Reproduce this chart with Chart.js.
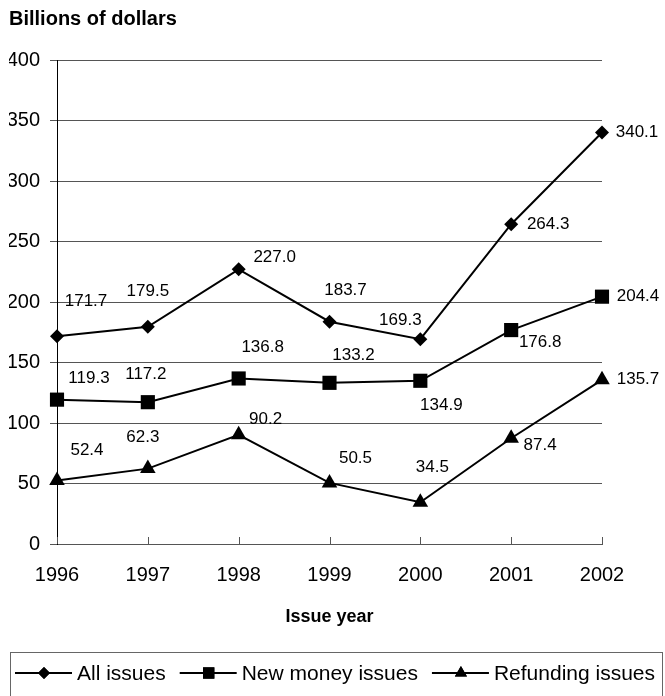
<!DOCTYPE html>
<html>
<head>
<meta charset="utf-8">
<title>Issues by year</title>
<script src="https://cdn.jsdelivr.net/npm/chart.js@4.4.1/dist/chart.umd.min.js"></script>
<style>
  html, body { margin: 0; padding: 0; background: #fff; overflow: hidden; }
  #wrap { position: relative; width: 665px; height: 696px; }
</style>
</head>
<body>
<div id="wrap"><canvas id="issueChart"></canvas></div>
<script>
const years = ['1996', '1997', '1998', '1999', '2000', '2001', '2002'];
const allIssues = [171.7, 179.5, 227.0, 183.7, 169.3, 264.3, 340.1];
const newMoney = [119.3, 117.2, 136.8, 133.2, 134.9, 176.8, 204.4];
const refunding = [52.4, 62.3, 90.2, 50.5, 34.5, 87.4, 135.7];
const yTicks = [0, 50, 100, 150, 200, 250, 300, 350, 400];

const FONT = '"Liberation Sans", Arial, Helvetica, sans-serif';

// where each value label sits relative to its marker (dx, dy in px)
const labelShift = {
    all: [[29, -35], [0, -35], [36, -12], [16, -31], [-20, -19], [37, 0], [35, 0]],
    money: [[32, -21], [-2, -28], [24, -31], [24, -28], [21, 25], [29, 12], [36, 0]],
    refund: [[30, -30], [-5, -31], [27, -16], [26, -25], [12, -35], [29, 7], [36, 0]]
};

const valueLabels = {
    id: 'valueLabels',
    afterDatasetsDraw(chart) {
        const ctx = chart.ctx;
        ctx.save();
        ctx.font = '17px ' + FONT;
        ctx.fillStyle = '#000';
        ctx.textAlign = 'center';
        ctx.textBaseline = 'middle';
        chart.data.datasets.forEach((ds, i) => {
            const meta = chart.getDatasetMeta(i);
            meta.data.forEach((pt, j) => {
                const s = ds.shift[j];
                ctx.fillText(ds.data[j].toFixed(1), pt.x + s[0], pt.y + s[1]);
            });
        });
        ctx.restore();
    }
};

// small tick marks on the year axis, pointing up into the plot
const innerTicks = {
    id: 'innerTicks',
    afterDraw(chart) {
        const ctx = chart.ctx;
        const x = chart.scales.x;
        const bottom = chart.chartArea.bottom;
        ctx.save();
        ctx.strokeStyle = '#555';
        ctx.lineWidth = 1;
        ctx.beginPath();
        years.forEach((y, i) => {
            const px = Math.round(x.getPixelForValue(i)) + 0.5;
            ctx.moveTo(px, bottom);
            ctx.lineTo(px, bottom - 7);
        });
        ctx.stroke();
        ctx.restore();
    }
};

// boxed legend along the bottom, line + marker + name
const boxLegend = {
    id: 'boxLegend',
    afterDraw(chart) {
        const ctx = chart.ctx;
        ctx.save();
        ctx.strokeStyle = '#666';
        ctx.lineWidth = 1;
        ctx.strokeRect(10.5, 652.5, 652, 50);
        ctx.font = '21px ' + FONT;
        ctx.textBaseline = 'middle';
        ctx.textAlign = 'left';
        const cy = 673;
        let x = 15;
        chart.data.datasets.forEach(ds => {
            ctx.strokeStyle = '#000';
            ctx.lineWidth = 2;
            ctx.beginPath();
            ctx.moveTo(x, cy);
            ctx.lineTo(x + 57, cy);
            ctx.stroke();
            ctx.fillStyle = '#000';
            Chart.helpers.drawPoint(ctx, {
                pointStyle: ds.pointStyle,
                radius: ds.legendRadius,
                borderWidth: 0,
                rotation: 0
            }, x + 29, cy);
            ctx.fill();
            ctx.fillText(ds.label, x + 62, cy + 1);
            x += 62 + ctx.measureText(ds.label).width + 14;
        });
        ctx.restore();
    }
};

new Chart(document.getElementById('issueChart'), {
    type: 'line',
    data: {
        labels: years,
        datasets: [
            {
                label: 'All issues',
                data: allIssues,
                shift: labelShift.all,
                pointStyle: 'rectRot',
                pointRadius: 7,
                legendRadius: 6
            },
            {
                label: 'New money issues',
                data: newMoney,
                shift: labelShift.money,
                pointStyle: 'rect',
                pointRadius: 10,
                legendRadius: 8
            },
            {
                label: 'Refunding issues',
                data: refunding,
                shift: labelShift.refund,
                pointStyle: 'triangle',
                pointRadius: 9,
                legendRadius: 7
            }
        ].map(ds => Object.assign(ds, {
            borderColor: '#000',
            borderWidth: 2,
            backgroundColor: '#000',
            pointBackgroundColor: '#000',
            pointBorderColor: '#000',
            pointBorderWidth: 0,
            tension: 0,
            fill: false
        }))
    },
    options: {
        responsive: true,
        maintainAspectRatio: false,
        animation: false,
        layout: {
            padding: { left: 9, right: 63, top: 0, bottom: 60 }
        },
        scales: {
            x: {
                offset: false,
                grid: { display: false, drawTicks: false },
                border: { display: true, color: '#555', width: 1 },
                ticks: {
                    color: '#000',
                    font: { family: FONT, size: 20 },
                    padding: 19,
                    maxRotation: 0
                },
                title: {
                    display: true,
                    text: 'Issue year',
                    color: '#000',
                    font: { family: FONT, size: 18, weight: 'bold' },
                    padding: { top: 0, bottom: 8 }
                },
                afterFit(scale) { scale.height = 92; }
            },
            y: {
                min: yTicks[0],
                max: yTicks[yTicks.length - 1],
                afterBuildTicks(scale) {
                    scale.ticks = yTicks.map(v => ({ value: v }));
                },
                grid: { color: '#555', lineWidth: 1, tickLength: 7, drawTicks: true },
                border: { display: true, color: '#000', width: 1 },
                ticks: {
                    color: '#000',
                    font: { family: FONT, size: 20 },
                    padding: 10
                },
                afterFit(scale) { scale.width = 48; }
            }
        },
        plugins: {
            legend: { display: false },
            tooltip: { enabled: false },
            title: {
                display: true,
                text: 'Billions of dollars',
                align: 'start',
                color: '#000',
                font: { family: FONT, size: 20, weight: 'bold' },
                padding: { top: 7, bottom: 29 }
            }
        }
    },
    plugins: [valueLabels, innerTicks, boxLegend]
});
</script>
</body>
</html>
